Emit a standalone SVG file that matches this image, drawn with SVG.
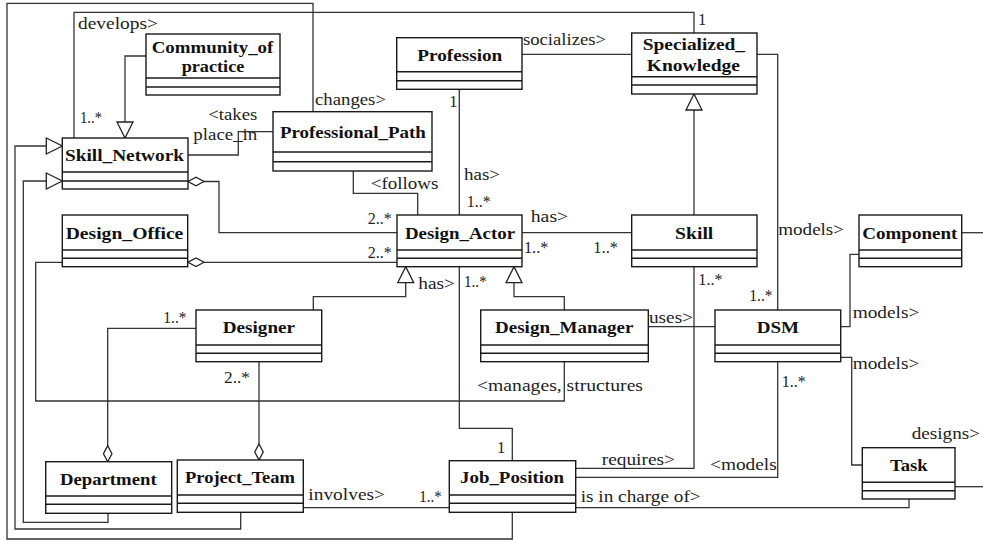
<svg xmlns="http://www.w3.org/2000/svg" width="983" height="540" viewBox="0 0 983 540">
<style>
.b rect{fill:#fff;stroke:#1a1a1a;stroke-width:1.4}
.b line{stroke:#1a1a1a;stroke-width:1.4}
.n{font-family:"Liberation Serif","Times New Roman",serif;font-weight:bold;font-size:17.5px;text-anchor:middle;fill:#111}
.l{font-family:"Liberation Serif","Times New Roman",serif;font-size:16.5px;fill:#222}
#conn path{fill:none;stroke:#333;stroke-width:1.3}
</style>
<defs>
<marker id="tri" markerUnits="userSpaceOnUse" viewBox="-2 -2 20 20" markerWidth="20" markerHeight="20" refX="16" refY="8" orient="auto"><path d="M0,0 L16,8 L0,16 Z" fill="#fff" stroke="#222" stroke-width="1.3"/></marker>
<marker id="dia" markerUnits="userSpaceOnUse" viewBox="-2 -2 20 12.5" markerWidth="20" markerHeight="12.5" refX="16" refY="4.25" orient="auto"><path d="M0,4.25 L8,0 L16,4.25 L8,8.5 Z" fill="#fff" stroke="#222" stroke-width="1.3"/></marker>
</defs>
<rect width="983" height="540" fill="#fff"/>
<g id="conn">
<path d="M512.3,512.3 V539 H7 V3.3 H313 V112"/>
<path d="M74,138 V12.3 H694 V33"/>
<path d="M146,56 H125 V138" marker-end="url(#tri)"/>
<path d="M108,513.3 V522.3 H23.3 V181 H62.3" marker-end="url(#tri)"/>
<path d="M240.7,512.3 V529 H15 V146 H62.3" marker-end="url(#tri)"/>
<path d="M188,155 H238.3 V131.7 H273"/>
<path d="M397,232.7 H219 V181.5 H188" marker-end="url(#dia)"/>
<path d="M397,262.3 H188" marker-end="url(#dia)"/>
<path d="M353.3,171 V193.3 H417.7 V215"/>
<path d="M459.3,89.3 V215"/>
<path d="M522,54.3 H631.7"/>
<path d="M694,215 V94" marker-end="url(#tri)"/>
<path d="M757,54.3 H777.7 V310"/>
<path d="M522,232.7 H631.7"/>
<path d="M313.3,310 V296.7 H405.7 V266.7" marker-end="url(#tri)"/>
<path d="M564.3,310 V296.7 H514 V266.7" marker-end="url(#tri)"/>
<path d="M459.3,266.7 V428.3 H512.3 V460.7"/>
<path d="M196,328.3 H107.7 V461.7" marker-end="url(#dia)"/>
<path d="M259,361.7 V460" marker-end="url(#dia)"/>
<path d="M62.3,262.3 H35.7 V401 H564.3 V361.7"/>
<path d="M303.3,507.7 H449.3"/>
<path d="M648.3,326.7 H715"/>
<path d="M694,266.7 V468.3 H575.7"/>
<path d="M777.7,361.7 V477.3 H575.7"/>
<path d="M575.7,507.7 H909 V499"/>
<path d="M840.7,326.7 H850 V254.3 H859"/>
<path d="M840.7,357.3 H851.7 V465 H862.3"/>
<path d="M961.7,232.7 H983"/>
<path d="M955,486.7 H983"/>
</g>
<g id="labels" class="l">
<text x="315" y="105" textLength="71" lengthAdjust="spacingAndGlyphs">changes&gt;</text>
<text x="78" y="29" textLength="80" lengthAdjust="spacingAndGlyphs">develops&gt;</text>
<text x="80" y="123" textLength="22" lengthAdjust="spacingAndGlyphs">1..*</text>
<text x="698" y="25">1</text>
<text x="208.3" y="120" textLength="49" lengthAdjust="spacingAndGlyphs">&lt;takes</text>
<text x="193.3" y="140" textLength="64" lengthAdjust="spacingAndGlyphs">place_in</text>
<text x="367.7" y="224" textLength="24" lengthAdjust="spacingAndGlyphs">2..*</text>
<text x="367.7" y="258" textLength="24" lengthAdjust="spacingAndGlyphs">2..*</text>
<text x="370.7" y="189" textLength="67.6" lengthAdjust="spacingAndGlyphs">&lt;follows</text>
<text x="449.3" y="107">1</text>
<text x="464" y="180" textLength="36" lengthAdjust="spacingAndGlyphs">has&gt;</text>
<text x="466.7" y="207" textLength="24" lengthAdjust="spacingAndGlyphs">1..*</text>
<text x="523" y="45" textLength="83" lengthAdjust="spacingAndGlyphs">socializes&gt;</text>
<text x="778.3" y="235" textLength="65.7" lengthAdjust="spacingAndGlyphs">models&gt;</text>
<text x="749.3" y="301" textLength="23.3" lengthAdjust="spacingAndGlyphs">1..*</text>
<text x="530.7" y="222" textLength="37.6" lengthAdjust="spacingAndGlyphs">has&gt;</text>
<text x="524" y="253" textLength="24.3" lengthAdjust="spacingAndGlyphs">1..*</text>
<text x="593.3" y="253" textLength="24.7" lengthAdjust="spacingAndGlyphs">1..*</text>
<text x="418.3" y="289" textLength="36.7" lengthAdjust="spacingAndGlyphs">has&gt;</text>
<text x="464" y="287" textLength="22.7" lengthAdjust="spacingAndGlyphs">1..*</text>
<text x="497" y="453">1</text>
<text x="163.3" y="323" textLength="23.3" lengthAdjust="spacingAndGlyphs">1..*</text>
<text x="224" y="383" textLength="26" lengthAdjust="spacingAndGlyphs">2..*</text>
<text x="477" y="391" textLength="166" lengthAdjust="spacingAndGlyphs">&lt;manages, structures</text>
<text x="308.3" y="500" textLength="76.7" lengthAdjust="spacingAndGlyphs">involves&gt;</text>
<text x="419.3" y="502" textLength="22.3" lengthAdjust="spacingAndGlyphs">1..*</text>
<text x="649" y="323" textLength="44" lengthAdjust="spacingAndGlyphs">uses&gt;</text>
<text x="601.7" y="465" textLength="73.3" lengthAdjust="spacingAndGlyphs">requires&gt;</text>
<text x="698.3" y="285" textLength="24.3" lengthAdjust="spacingAndGlyphs">1..*</text>
<text x="710" y="470" textLength="66.7" lengthAdjust="spacingAndGlyphs">&lt;models</text>
<text x="781.7" y="387" textLength="24" lengthAdjust="spacingAndGlyphs">1..*</text>
<text x="580.7" y="502" textLength="120" lengthAdjust="spacingAndGlyphs">is in charge of&gt;</text>
<text x="852.7" y="318" textLength="66.7" lengthAdjust="spacingAndGlyphs">models&gt;</text>
<text x="852.7" y="369" textLength="66.7" lengthAdjust="spacingAndGlyphs">models&gt;</text>
<text x="911.7" y="439" textLength="68.3" lengthAdjust="spacingAndGlyphs">designs&gt;</text>
</g>
<g id="Community_of_practice" class="b"><rect x="146" y="34" width="134" height="61"/><line x1="146" y1="78" x2="280" y2="78"/><line x1="146" y1="87" x2="280" y2="87"/><text class="n" x="212.5" y="53" textLength="121.7" lengthAdjust="spacingAndGlyphs">Community_of</text><text class="n" x="213" y="72" textLength="62.7" lengthAdjust="spacingAndGlyphs">practice</text></g>
<g id="Profession" class="b"><rect x="396.7" y="37.7" width="125.3" height="51.6"/><line x1="396.7" y1="71.7" x2="522" y2="71.7"/><line x1="396.7" y1="80.7" x2="522" y2="80.7"/><text class="n" x="459.8" y="60.7" textLength="85" lengthAdjust="spacingAndGlyphs">Profession</text></g>
<g id="Specialized_Knowledge" class="b"><rect x="631.7" y="33" width="125.3" height="61"/><line x1="631.7" y1="76.7" x2="757" y2="76.7"/><line x1="631.7" y1="85" x2="757" y2="85"/><text class="n" x="693.9" y="50" textLength="102.3" lengthAdjust="spacingAndGlyphs">Specialized_</text><text class="n" x="693.4" y="71" textLength="93.3" lengthAdjust="spacingAndGlyphs">Knowledge</text></g>
<g id="Skill_Network" class="b"><rect x="62.3" y="138" width="125.7" height="51"/><line x1="62.3" y1="172" x2="188" y2="172"/><line x1="62.3" y1="181" x2="188" y2="181"/><text class="n" x="124.5" y="161" textLength="119" lengthAdjust="spacingAndGlyphs">Skill_Network</text></g>
<g id="Professional_Path" class="b"><rect x="273" y="111.7" width="159" height="59.3"/><line x1="273" y1="152" x2="432" y2="152"/><line x1="273" y1="161.7" x2="432" y2="161.7"/><text class="n" x="352.9" y="138" textLength="146" lengthAdjust="spacingAndGlyphs">Professional_Path</text></g>
<g id="Design_Office" class="b"><rect x="62.3" y="215" width="125.4" height="51.7"/><line x1="62.3" y1="250" x2="187.7" y2="250"/><line x1="62.3" y1="258.3" x2="187.7" y2="258.3"/><text class="n" x="124.5" y="239.3" textLength="117.7" lengthAdjust="spacingAndGlyphs">Design_Office</text></g>
<g id="Design_Actor" class="b"><rect x="397" y="215" width="125" height="51.7"/><line x1="397" y1="250" x2="522" y2="250"/><line x1="397" y1="258.3" x2="522" y2="258.3"/><text class="n" x="460" y="239.3" textLength="110" lengthAdjust="spacingAndGlyphs">Design_Actor</text></g>
<g id="Skill" class="b"><rect x="631.7" y="215" width="125.3" height="51.7"/><line x1="631.7" y1="250" x2="757" y2="250"/><line x1="631.7" y1="258.3" x2="757" y2="258.3"/><text class="n" x="694.2" y="239.3" textLength="38.3" lengthAdjust="spacingAndGlyphs">Skill</text></g>
<g id="Component" class="b"><rect x="859" y="215" width="102.7" height="51.7"/><line x1="859" y1="250" x2="961.7" y2="250"/><line x1="859" y1="258.3" x2="961.7" y2="258.3"/><text class="n" x="909.8" y="239.3" textLength="95" lengthAdjust="spacingAndGlyphs">Component</text></g>
<g id="Designer" class="b"><rect x="196" y="310" width="125.7" height="51.7"/><line x1="196" y1="345" x2="321.7" y2="345"/><line x1="196" y1="353.3" x2="321.7" y2="353.3"/><text class="n" x="258.9" y="333.3" textLength="72.3" lengthAdjust="spacingAndGlyphs">Designer</text></g>
<g id="Design_Manager" class="b"><rect x="480.7" y="310" width="167.6" height="51.7"/><line x1="480.7" y1="345" x2="648.3" y2="345"/><line x1="480.7" y1="353.3" x2="648.3" y2="353.3"/><text class="n" x="564.2" y="333.3" textLength="138.3" lengthAdjust="spacingAndGlyphs">Design_Manager</text></g>
<g id="DSM" class="b"><rect x="715" y="310" width="125.7" height="51.7"/><line x1="715" y1="345" x2="840.7" y2="345"/><line x1="715" y1="353.3" x2="840.7" y2="353.3"/><text class="n" x="777.9" y="333.3" textLength="42.3" lengthAdjust="spacingAndGlyphs">DSM</text></g>
<g id="Task" class="b"><rect x="862.3" y="447.7" width="92.7" height="51.3"/><line x1="862.3" y1="482.3" x2="955" y2="482.3"/><line x1="862.3" y1="490.7" x2="955" y2="490.7"/><text class="n" x="908.9" y="470.7" textLength="37.7" lengthAdjust="spacingAndGlyphs">Task</text></g>
<g id="Department" class="b"><rect x="45.7" y="461.7" width="126" height="51.6"/><line x1="45.7" y1="496" x2="171.7" y2="496"/><line x1="45.7" y1="504.3" x2="171.7" y2="504.3"/><text class="n" x="108.3" y="485" textLength="96.7" lengthAdjust="spacingAndGlyphs">Department</text></g>
<g id="Project_Team" class="b"><rect x="177.3" y="460" width="126" height="52.3"/><line x1="177.3" y1="495" x2="303.3" y2="495"/><line x1="177.3" y1="503.3" x2="303.3" y2="503.3"/><text class="n" x="240" y="483" textLength="110" lengthAdjust="spacingAndGlyphs">Project_Team</text></g>
<g id="Job_Position" class="b"><rect x="449.3" y="460.7" width="126.4" height="51.6"/><line x1="449.3" y1="495" x2="575.7" y2="495"/><line x1="449.3" y1="503.3" x2="575.7" y2="503.3"/><text class="n" x="512" y="483.3" textLength="104" lengthAdjust="spacingAndGlyphs">Job_Position</text></g>
</svg>
